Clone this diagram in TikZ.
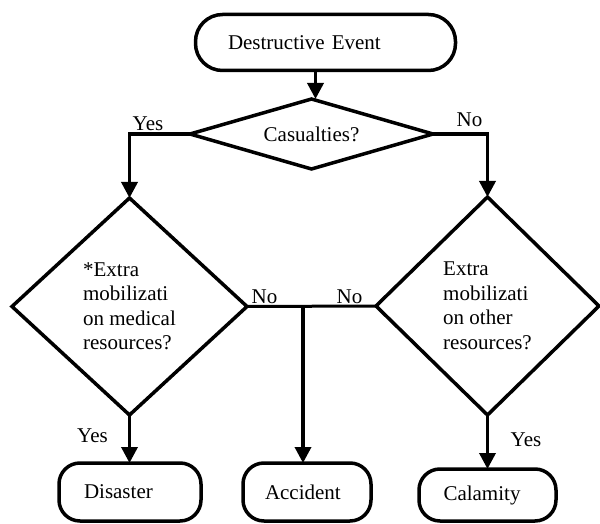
\documentclass[tikz,border=0pt]{standalone}
\usepackage{fontspec}
\setmainfont{Liberation Serif}
\usetikzlibrary{shapes.geometric,arrows.meta,calc}
\begin{document}
\begin{tikzpicture}[x=1pt,y=-1pt,
  every node/.style={font=\fontsize{21}{24.5}\selectfont},
  term/.style={draw,line width=3.5pt,rounded corners=22pt,inner ysep=0pt,outer sep=0pt,align=left},
  dec/.style={draw,diamond,line width=3.5pt,inner sep=0pt,outer sep=0pt,align=left},
  conn/.style={line width=3.5pt},
  arr/.style={conn,-{Triangle[width=16pt,length=16pt]}},
  lbl/.style={inner sep=0pt}]
\useasboundingbox (0,0) rectangle (600,524);
% nodes
\node[term, text width=195pt, inner xsep=32.5pt, minimum height=56pt, rounded corners=27pt] (top) at (325.5,42.5) {Destructive Event};
\node[dec, aspect=3.5, minimum width=243pt, minimum height=70pt] (cas) at (311.5,134) {Casualties?};
\node[dec, minimum width=235pt, minimum height=217pt] (med) at (129.5,306.5) {*Extra\\mobilizati\\on medical\\resources?};
\node[dec, minimum width=223pt, minimum height=218pt] (oth) at (487.5,306) {Extra\\mobilizati\\on other\\resources?};
\node[term, text width=92pt, inner xsep=25pt, minimum height=58pt, rounded corners=21pt] (dis) at (130,492) {Disaster};
\node[term, text width=84pt, inner xsep=22pt, minimum height=58pt, rounded corners=21pt] (acc) at (307,492) {Accident};
\node[term, text width=88pt, inner xsep=24.5pt, minimum height=52pt, rounded corners=21pt] (cal) at (487.5,495) {Calamity};
% connectors
\draw[arr] ($(top.south -| cas.north)+(4,0)$) -- ([xshift=4pt]cas.north);
\draw[arr] (cas.west) -| (med.north);
\draw[arr] (cas.east) -| (oth.north);
\draw[line width=3pt] (med.east) -- (oth.west);
\draw[arr] ($(med.east -| acc.north)+(-4,0)$) -- ([xshift=-4pt]acc.north);
\draw[arr] (med.south) -- (med.south |- dis.north);
\draw[arr] (oth.south) -- (oth.south |- cal.north);
% labels
\node[lbl] (y1) at (148,124) {Yes};
\node[lbl] (n1) at (469.5,120) {No};
\node[lbl] (n2) at (264.5,297) {No};
\node[lbl] (n3) at (349.5,297) {No};
\node[lbl] (y2) at (92.5,435.5) {Yes};
\node[lbl] (y3) at (526,439.5) {Yes};
\end{tikzpicture}
\end{document}
